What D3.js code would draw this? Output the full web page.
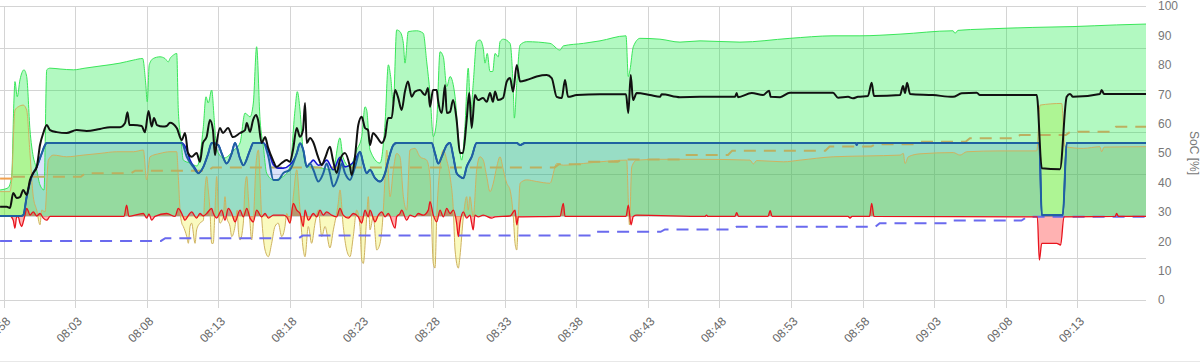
<!DOCTYPE html>
<html><head><meta charset="utf-8">
<script src="https://cdn.jsdelivr.net/npm/d3@7"></script>
<style>html,body{margin:0;padding:0;background:#fff;overflow:hidden}</style>
</head><body><svg id="c" width="1200" height="363"></svg>
<script>
// ---- DATA : [minutes after 07:58, value] ----
const xTickLabels = ["07:58","08:03","08:08","08:13","08:18","08:23","08:28","08:33","08:38","08:43","08:48","08:53","08:58","09:03","09:08","09:13"];
const socTicks = [0,10,20,30,40,50,60,70,80,90,100];
const powerTicks = [-2000,-1000,0,1000,2000,3000,4000,5000];

// PV power [W] (green area)
const pvPower = [[-0.24,620],[0.31,670],[0.57,940],[0.73,2760],[0.8,3200],[0.96,2840],[1.15,3240],[1.43,3480],[1.62,3320],[1.85,2050],[2.08,1410],[2.27,1170],[2.55,740],[2.83,620],[3.02,3480],[3.25,3520],[3.95,3500],[4.88,3480],[5.69,3520],[6.74,3570],[8.14,3640],[9.05,3710],[9.72,3750],[9.93,3170],[10.04,2720],[10.18,3600],[10.46,3750],[10.93,3790],[11.28,3750],[11.51,3670],[11.63,3750],[11.86,3830],[12.1,3870],[12.21,2520],[12.4,1810],[12.56,1330],[13.03,1260],[13.52,1190],[13.96,2130],[14.14,2840],[14.3,2690],[14.54,3000],[14.72,2290],[14.84,1740],[15.0,1500],[15.4,1380],[16.1,1570],[16.52,1740],[16.87,2450],[17.22,2360],[17.45,2690],[17.68,4030],[17.92,2290],[18.15,1650],[18.38,1020],[18.85,860],[19.54,940],[20.01,1170],[20.36,2520],[20.52,2960],[20.71,2520],[20.92,1570],[21.18,1170],[21.62,1170],[23.01,1100],[23.5,1860],[23.71,1400],[24.2,1170],[24.67,1570],[25.02,1890],[25.25,2600],[25.37,2520],[25.6,1570],[26.3,1260],[26.65,2210],[26.88,3600],[27.04,3320],[27.23,2690],[27.46,4430],[27.69,4390],[27.93,4110],[28.04,3640],[28.27,4390],[28.86,4410],[29.32,4350],[29.56,3670],[29.79,2920],[30.02,1890],[30.26,2290],[30.49,3910],[30.72,3790],[30.96,3080],[31.19,3320],[31.54,2840],[31.77,1890],[32.0,1330],[32.23,2130],[32.46,3520],[32.63,2450],[32.81,3160],[33.05,4150],[33.28,4190],[33.51,3990],[33.63,3640],[33.79,3870],[33.98,3440],[34.17,3440],[34.33,3870],[34.56,3790],[34.68,4150],[34.91,4210],[35.38,4110],[35.61,2960],[35.68,2330],[35.85,3160],[36.08,4070],[36.54,4150],[38.17,4110],[38.87,3950],[39.1,4050],[40.5,4110],[41.66,4170],[43.48,4290],[43.64,3320],[43.76,3480],[43.99,4030],[44.46,4230],[45.85,4210],[47.25,4140],[48.65,4170],[51.44,4140],[54.93,4230],[57.94,4290],[59.82,4290],[62.62,4330],[66.32,4410],[66.46,4350],[66.67,4420],[68.41,4450],[71.9,4490],[74.7,4510],[77.75,4550],[79.8,4570]];

// Charging power [W] (steel-blue line)
const chargePower = [[-0.24,0],[1.22,0],[1.38,20],[1.62,460],[1.97,940],[2.32,1170],[2.67,1490],[2.9,1690],[3.02,1740],[12.45,1740],[12.8,1410],[13.26,1170],[13.61,1020],[13.96,1170],[14.3,1490],[14.54,1740],[15.0,1690],[15.24,1490],[15.59,1250],[15.94,1490],[16.17,1740],[16.52,1370],[16.75,1210],[17.22,1570],[17.45,1740],[18.15,1740],[18.5,1410],[18.85,860],[19.19,860],[19.54,1020],[20.01,1100],[20.48,1490],[20.71,1730],[20.94,1570],[21.18,1170],[21.41,1250],[21.64,1100],[21.99,820],[22.34,1020],[22.57,1250],[22.8,1020],[23.04,700],[23.38,940],[23.62,1250],[23.85,1020],[24.2,860],[24.55,1170],[24.9,1530],[25.13,1250],[25.37,1020],[25.6,1100],[25.95,900],[26.3,820],[26.65,1020],[26.88,1330],[27.23,1690],[27.46,1740],[29.91,1740],[30.14,1490],[30.37,1250],[30.61,1410],[30.96,1690],[31.19,1740],[31.42,1410],[31.65,1020],[31.88,940],[32.12,900],[32.35,1170],[32.7,1410],[33.05,1740],[35.85,1740],[36.08,1690],[36.43,1740],[59.54,1740],[59.59,1690],[59.68,1740],[72.35,1740],[72.52,20],[73.99,20],[74.26,1740],[79.8,1740]];

// Target power [W] (blue line with blue fill)
const targetPower = [[-0.24,0],[1.22,0],[1.38,20],[1.62,460],[1.97,940],[2.32,1170],[2.67,1490],[2.9,1690],[3.02,1740],[12.45,1740],[12.8,1570],[13.03,1330],[13.38,1140],[13.61,1020],[13.96,1170],[14.3,1490],[14.54,1740],[15.0,1690],[15.24,1490],[15.59,1250],[15.94,1490],[16.17,1740],[16.52,1370],[16.75,1210],[17.22,1570],[17.45,1740],[18.15,1740],[18.5,1550],[18.85,1220],[19.19,1140],[19.54,1140],[20.01,1220],[20.48,1490],[20.71,1730],[20.94,1570],[21.18,1170],[21.41,1250],[21.64,1330],[21.99,1210],[22.34,1260],[22.57,1330],[23.04,1100],[23.5,1400],[23.85,1170],[24.2,1210],[24.55,1330],[24.9,1530],[25.13,1250],[25.37,1020],[25.6,1100],[25.95,900],[26.3,820],[26.65,1020],[26.88,1330],[27.23,1690],[27.46,1740],[29.91,1740],[30.14,1490],[30.37,1250],[30.61,1410],[30.96,1690],[31.19,1740],[31.42,1410],[31.65,1020],[31.88,940],[32.12,900],[32.35,1170],[32.7,1410],[33.05,1740],[35.85,1740],[36.08,1690],[36.43,1740],[59.54,1740],[59.59,1690],[59.68,1740],[72.35,1740],[72.52,20],[73.99,20],[74.26,1740],[79.8,1740]];

// Home / battery power [W] (olive line, yellow fill)
const homePower = [[-0.24,580],[0.45,580],[0.57,860],[0.8,2520],[1.03,2600],[1.38,2640],[1.62,2520],[1.85,1490],[2.08,460],[2.32,140],[2.55,-210],[2.67,140],[2.9,100],[3.13,1330],[3.48,1450],[4.41,1410],[5.57,1450],[6.74,1490],[7.91,1530],[9.07,1530],[9.77,1570],[10.0,860],[10.23,1410],[10.93,1490],[11.63,1530],[12.1,1530],[12.21,940],[12.33,140],[12.45,-170],[12.56,-250],[12.8,-490],[12.91,-650],[13.03,-250],[13.14,-170],[13.38,-650],[13.49,-330],[13.72,-170],[13.96,-100],[14.07,620],[14.19,940],[14.3,620],[14.42,140],[14.54,-650],[14.65,-650],[14.77,140],[14.89,940],[15.0,220],[15.12,-170],[15.35,-20],[15.47,460],[15.59,-20],[15.82,-250],[15.94,-490],[16.17,-250],[16.33,140],[16.4,-330],[16.52,-570],[16.75,-170],[16.87,700],[16.99,940],[17.1,460],[17.22,-170],[17.33,-570],[17.45,-170],[17.64,1250],[17.8,1570],[18.03,-20],[18.27,-810],[18.5,-970],[18.73,-650],[18.96,-250],[19.19,-170],[19.43,-490],[19.66,-250],[19.78,60],[20.01,-170],[20.24,460],[20.48,1100],[20.71,140],[20.94,-810],[21.06,-970],[21.29,-250],[21.52,-650],[21.76,-170],[21.99,140],[22.23,-490],[22.46,-250],[22.8,-760],[23.04,-330],[23.38,300],[23.5,620],[23.73,-250],[23.97,-810],[24.2,-970],[24.43,-490],[24.67,140],[24.9,-250],[25.02,-1050],[25.13,-1130],[25.37,-20],[25.48,460],[25.6,-330],[25.83,-20],[26.07,-810],[26.3,-650],[26.53,140],[26.65,940],[26.77,1570],[27.0,460],[27.23,1100],[27.46,1490],[27.69,1410],[27.93,460],[28.16,140],[28.39,1570],[28.74,1610],[29.09,1410],[29.56,1330],[29.79,940],[30.02,-1130],[30.14,-1240],[30.26,-20],[30.49,1170],[30.72,1570],[30.96,1330],[31.19,940],[31.42,140],[31.54,-810],[31.77,-1240],[31.88,-970],[32.12,-20],[32.35,460],[32.46,140],[32.58,460],[32.81,-20],[33.05,1100],[33.28,1410],[33.51,1330],[33.75,940],[33.98,580],[34.21,780],[34.45,1170],[34.68,1410],[34.91,1100],[35.15,780],[35.38,620],[35.61,-20],[35.73,-650],[35.85,-810],[35.96,-20],[36.08,780],[36.54,860],[37.24,820],[38.17,780],[38.64,1250],[39.1,1210],[40.5,1250],[41.66,1290],[43.53,1330],[43.64,380],[43.72,-210],[43.88,1170],[44.23,1330],[45.85,1350],[48.65,1350],[52.14,1330],[52.37,1240],[52.61,1320],[54.47,1290],[55.63,1330],[57.96,1410],[60.29,1430],[62.62,1450],[62.85,1490],[62.97,1250],[63.2,1410],[64.01,1480],[66.34,1510],[66.81,1450],[67.28,1530],[69.6,1550],[72.17,1550],[72.4,2640],[73.91,2680],[74.14,1650],[75.42,1610],[76.58,1650],[76.7,1530],[76.87,1640],[79.8,1650]];

// Grid power [W] (red)
const gridPower = [[-0.24,0],[0.45,0],[0.68,-100],[0.8,-290],[0.92,-20],[1.03,-20],[1.15,-170],[1.27,-250],[1.38,-140],[1.5,20],[1.62,180],[1.73,120],[1.85,20],[2.08,100],[2.32,0],[2.55,60],[2.78,-50],[3.02,-100],[3.25,-10],[8.42,-10],[8.6,260],[8.76,-10],[9.77,60],[10.0,-50],[10.16,50],[10.35,-100],[10.58,-10],[11.4,60],[11.98,-10],[12.21,180],[12.45,60],[12.68,-100],[12.89,0],[13.14,100],[13.49,-50],[13.72,60],[13.96,0],[14.19,60],[14.54,180],[14.65,70],[14.89,-50],[15.24,140],[15.47,-100],[15.7,180],[15.94,60],[16.17,-140],[16.52,140],[16.75,-20],[16.99,180],[17.22,-50],[17.45,-140],[17.68,140],[18.03,-20],[18.27,60],[18.5,-50],[18.85,20],[19.54,20],[19.78,-20],[20.01,-170],[20.24,300],[20.48,140],[20.71,60],[20.94,-250],[21.06,140],[21.29,-100],[21.64,60],[21.88,-20],[22.11,140],[22.34,20],[22.57,100],[22.92,20],[23.27,-20],[23.5,180],[23.73,20],[24.08,-50],[24.43,60],[24.78,-20],[25.02,-170],[25.25,140],[25.48,-20],[25.6,140],[25.95,-140],[26.18,20],[26.42,100],[26.65,-20],[26.88,60],[27.35,-290],[27.46,-20],[27.69,60],[27.81,140],[28.16,-100],[28.39,20],[28.74,-20],[28.97,60],[29.32,20],[29.67,140],[29.79,340],[30.02,20],[30.26,-140],[30.49,140],[30.72,-20],[30.96,180],[31.19,60],[31.42,140],[31.65,-170],[31.77,-490],[31.88,-170],[32.12,100],[32.35,-50],[32.58,20],[32.7,-170],[32.81,-330],[32.93,20],[33.16,-20],[33.51,20],[34.1,-50],[34.33,-20],[35.38,0],[35.73,140],[35.85,-210],[35.96,-20],[38.87,-10],[39.1,300],[39.22,-10],[43.48,-10],[43.64,260],[43.83,-210],[43.99,-10],[44.23,20],[49.0,-10],[49.11,20],[49.2,-10],[51.09,-10],[51.21,80],[51.34,-10],[53.4,-10],[53.55,130],[53.68,-10],[58.99,-10],[59.13,-50],[59.26,-10],[60.49,-10],[60.64,300],[60.8,-10],[72.21,-20],[72.35,-1050],[72.52,-650],[73.56,-650],[73.84,-690],[74.07,-20],[77.64,-10],[77.75,60],[77.88,-10],[79.8,-10]];

// State of charge [%] (black)
const soc = [[-0.24,31.7],[0.22,31.7],[0.45,31.3],[0.68,36.4],[0.92,34.7],[1.15,35.0],[1.38,37.4],[1.62,35.7],[1.85,40.8],[2.08,43.2],[2.32,45.2],[2.55,52.7],[2.78,56.8],[3.02,59.5],[3.25,57.8],[3.72,57.1],[4.41,56.8],[5.11,57.8],[5.81,57.5],[6.74,58.2],[7.44,58.8],[8.14,58.8],[8.49,60.2],[8.66,63.9],[8.8,59.5],[9.05,59.5],[9.65,59.2],[9.88,57.1],[10.13,64.3],[10.35,59],[10.51,61.9],[10.72,59.5],[11.14,59],[11.4,59.2],[11.63,60.3],[12.1,58.5],[12.45,54.4],[12.68,56.8],[12.89,50],[13.14,48.7],[13.49,50],[13.72,47],[13.93,53.4],[14.19,55.5],[14.42,61.2],[14.63,57.8],[14.77,49.3],[14.89,53.4],[15.12,58.5],[15.33,56.8],[15.68,58.5],[16.03,55.4],[16.52,56.8],[16.87,57.8],[16.99,60.2],[17.22,57.2],[17.43,61.2],[17.64,62.9],[17.78,61.2],[18.03,53.4],[18.27,55.4],[18.47,52],[18.82,47.6],[19.08,45.3],[19.43,46.6],[19.78,47.6],[20.01,47],[20.22,51],[20.48,58.5],[20.71,55.5],[20.92,57.8],[21.06,67],[21.18,53.4],[21.41,55.1],[21.62,53.8],[21.97,48.7],[22.23,45.9],[22.46,48.3],[22.8,52.1],[23.01,47.6],[23.27,43.2],[23.5,47.6],[23.85,50],[24.2,45.3],[24.32,42.5],[24.55,48.7],[24.78,59.5],[25.02,62.3],[25.25,58.5],[25.46,57.8],[25.6,52.7],[25.81,56.8],[26.07,55.5],[26.42,53.4],[26.65,55.5],[26.86,61.9],[27.11,61.9],[27.35,71.4],[27.55,69.1],[27.81,64.6],[28.04,70.9],[28.25,74.3],[28.51,69.1],[28.74,70.9],[29.09,71.4],[29.44,69.7],[29.65,72.1],[29.79,65.7],[30.0,71.4],[30.26,71.4],[30.35,68],[30.61,63.6],[30.84,73.1],[30.96,63.6],[31.19,64],[31.4,68],[31.65,61.2],[31.88,50],[32.09,50],[32.35,61.2],[32.53,70.4],[32.7,58.5],[32.93,69.7],[33.14,68],[33.49,68.7],[33.75,67.4],[33.98,70.4],[34.19,67.4],[34.33,70.9],[34.54,68],[34.89,68.7],[35.15,74.3],[35.38,75.5],[35.59,70.9],[35.85,79.9],[36.08,74.3],[36.54,74.8],[37.24,76],[37.94,76.5],[38.29,75.5],[38.64,69.1],[38.99,68.7],[39.22,74.8],[39.43,69.1],[40.04,69.7],[41.66,70],[43.48,70],[43.64,63.6],[43.81,76.5],[43.97,68],[44.23,70.4],[45.16,69.7],[45.85,69.1],[45.97,70],[47.25,69],[48.65,69.1],[51.09,69.1],[51.21,70.4],[51.3,69],[52.26,70.4],[53.05,69.7],[53.47,71.2],[53.59,69.1],[54.24,69],[54.93,70.5],[57.94,70.5],[58.29,68.8],[58.99,69.1],[59.33,68.6],[59.68,69.1],[60.38,69.4],[60.64,73.9],[60.8,69.4],[62.62,69.7],[62.83,72.8],[62.97,70.4],[63.11,73.9],[63.32,70.1],[64.92,69.7],[66.32,69.1],[66.93,70.3],[67.98,70.5],[68.2,69.7],[72.17,69.7],[72.52,44.8],[73.79,44.5],[74.26,69.1],[74.49,70.1],[74.7,69.1],[76.58,70.1],[76.7,71.4],[76.87,70.1],[79.8,70.1]];

// Min SoC [%] (blue dashed)
const minSoc = [[-0.24,20.1],[11.0,20.1],[11.3,21.0],[20.6,21.0],[20.9,21.9],[41.1,21.9],[41.4,23.2],[45.9,23.2],[46.2,24.0],[50.9,24.0],[51.2,24.9],[60.9,24.9],[61.2,26.1],[66.0,26.1],[66.3,27.0],[71.1,27.0],[71.5,28.3],[79.8,28.3]];
// Vehicle SoC [%] (olive dashed)
const vehicleSoc = [[0.66,41.9],[5.4,41.9],[5.7,43.1],[8.9,43.1],[9.2,44.0],[14.3,44.0],[14.6,45.1],[38.5,45.1],[38.8,46.2],[40.3,46.2],[40.6,47.0],[42.9,47.0],[43.2,47.8],[47.3,47.8],[47.6,49.3],[50.6,49.3],[50.9,50.8],[57.4,50.8],[57.7,52.2],[60.6,52.2],[60.9,53.0],[63.7,53.0],[64.0,53.8],[67.2,53.8],[67.5,55.0],[70.7,55.0],[71.0,56.1],[74.2,56.1],[74.5,57.2],[77.4,57.2],[77.7,58.9],[79.8,58.9]];
const vehicleSocPrev = [[-0.24,41.3],[0.62,41.3]];

// ---- CHART ----
const svg = d3.select("#c");
const P = {left:0, right:1146, top:6, bottom:300};
const base = new Date(2000,0,1,7,58,0);
const tm = m => new Date(base.getTime() + m*60000);
const tl = s => { const [h,mm] = s.split(":").map(Number); return new Date(2000,0,1,h,mm,0); };

const x = d3.scaleTime().domain([tm(-0.2445), tm(79.8)]).range([P.left, P.right]);
const yW = d3.scaleLinear().domain([-2000,5000]).range([P.bottom, P.top]);
const yS = d3.scaleLinear().domain([0,100]).range([P.bottom, P.top]);
const FONT = "'Liberation Sans', Arial, Helvetica, sans-serif";

svg.append("line").attr("x1",0).attr("x2",1200).attr("y1",361.5).attr("y2",361.5)
  .attr("stroke","#e8e8e8");

// horizontal gridlines (left power scale)
const gH = svg.append("g").call(d3.axisLeft(yW).tickValues(powerTicks).tickSize(-(P.right-P.left)).tickFormat(""));
gH.select(".domain").remove();
gH.selectAll("line").attr("stroke","#d4d4d4").attr("shape-rendering","crispEdges");

// vertical gridlines + ticks
const tickDates = xTickLabels.map(tl);
const gV = svg.append("g").attr("transform",`translate(0,${P.bottom})`)
  .call(d3.axisBottom(x).tickValues(tickDates).tickSizeInner(-(P.bottom-P.top)).tickSizeOuter(0).tickFormat(""));
gV.select(".domain").remove();
gV.selectAll("line").attr("stroke","#d4d4d4").attr("shape-rendering","crispEdges");

const gX = svg.append("g").attr("transform",`translate(0,${P.bottom})`)
  .call(d3.axisBottom(x).tickValues(tickDates).tickSize(8).tickFormat(d3.timeFormat("%H:%M")));
gX.select(".domain").remove();
gX.selectAll("line").attr("stroke","#d4d4d4").attr("shape-rendering","crispEdges");
gX.selectAll("text").attr("x",0).attr("y",0).attr("dy","0.72em")
  .attr("text-anchor","end").attr("transform","translate(1,16) rotate(-45)")
  .attr("fill","#666").style("font-family",FONT).style("font-size","12px");

// right axis
const gR = svg.append("g").attr("transform",`translate(${P.right},0)`)
  .call(d3.axisRight(yS).tickValues(socTicks).tickSize(0).tickPadding(12));
gR.select(".domain").remove();
gR.selectAll("text").attr("fill","#777").style("font-family",FONT).style("font-size","12px");
svg.append("text").attr("transform","translate(1190,153) rotate(90)")
  .attr("text-anchor","middle").attr("fill","#777")
  .style("font-family",FONT).style("font-size","12px").text("SoC [%]");

// data layers
svg.append("clipPath").attr("id","pc").append("rect")
  .attr("x",P.left).attr("y",P.top).attr("width",P.right-P.left).attr("height",P.bottom-P.top);
const g = svg.append("g").attr("clip-path","url(#pc)");
const curve = d3.curveMonotoneX;
const areaW = d3.area().curve(curve).x(d=>x(tm(d[0]))).y0(yW(0)).y1(d=>yW(d[1]));
const lineW = d3.line().curve(curve).x(d=>x(tm(d[0]))).y(d=>yW(d[1]));
const lineS = d3.line().curve(curve).x(d=>x(tm(d[0]))).y(d=>yS(d[1]));
const lineSL = d3.line().x(d=>x(tm(d[0]))).y(d=>yS(d[1]));

g.append("path").attr("d",areaW(homePower)).attr("fill","rgba(235,235,0,0.25)");
g.append("path").attr("d",areaW(pvPower)).attr("fill","rgba(0,235,50,0.30)");
g.append("path").attr("d",areaW(targetPower)).attr("fill","rgba(0,60,230,0.14)");
g.append("path").attr("d",areaW(gridPower)).attr("fill","rgba(255,0,0,0.30)");

g.append("path").attr("d",lineW(pvPower)).attr("fill","none").attr("stroke","#3ae65a").attr("stroke-width",1);
g.append("path").attr("d",lineW(homePower)).attr("fill","none").attr("stroke","#cfb260").attr("stroke-width",1);
g.append("path").attr("d",lineSL(minSoc)).attr("fill","none").attr("stroke","#6a6aee").attr("stroke-width",2).attr("stroke-dasharray","12,8");
g.append("path").attr("d",lineSL(vehicleSoc)).attr("fill","none").attr("stroke","#bcb060").attr("stroke-width",2).attr("stroke-dasharray","12,8");
g.append("path").attr("d",lineSL(vehicleSocPrev)).attr("fill","none").attr("stroke","#f0a050").attr("stroke-width",2);
g.append("path").attr("d",lineW(gridPower)).attr("fill","none").attr("stroke","#e8141e").attr("stroke-width",1.3);
g.append("path").attr("d",lineW(targetPower)).attr("fill","none").attr("stroke","#1414d2").attr("stroke-width",1.6);
g.append("path").attr("d",lineW(chargePower)).attr("fill","none").attr("stroke","#1f62a0").attr("stroke-width",2);
g.append("path").attr("d",lineS(soc)).attr("fill","none").attr("stroke","#111").attr("stroke-width",2).attr("stroke-linejoin","round");
</script></body></html>
